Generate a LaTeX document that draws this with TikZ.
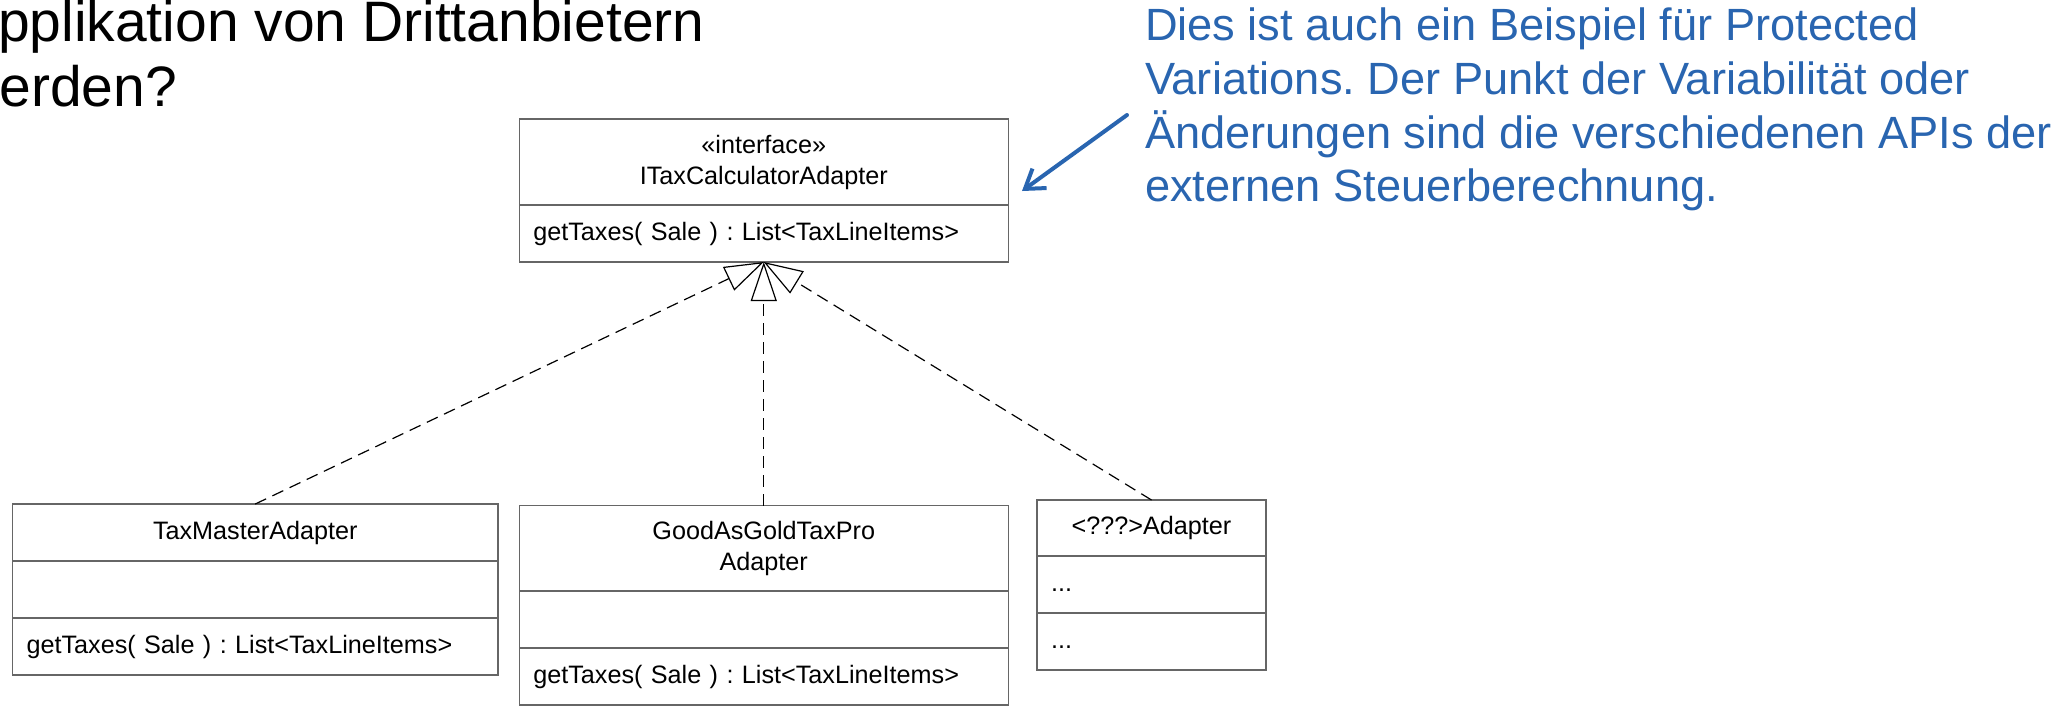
\documentclass[tikz,border=0pt]{standalone}
\usepackage{fontspec}
\setmainfont{Liberation Sans}
\frenchspacing
\usetikzlibrary{positioning,arrows.meta}
\definecolor{noteblue}{RGB}{41,101,176}
\newcommand{\gettaxes}{getTaxes( Sale ) : List<TaxLineItems>}

\begin{document}
\begin{tikzpicture}[
      x=0.5pt, y=-0.5pt,
      every node/.style={inner sep=0pt, outer sep=0pt},
      part/.style={draw=black!60, line width=0.7pt, inner xsep=7pt,
        font=\fontsize{12.6}{15.5}\selectfont, minimum height=28.5pt},
      row/.style={part, text height=9.1pt, text depth=2.6pt},
      wide/.style={text width=230.5pt},
      mid/.style={text width=228.75pt},
      narrow/.style={text width=100.5pt},
      realize/.style={line width=0.6pt, dash pattern=on 6pt off 3.5pt,
        -{Triangle[open,length=19.5pt,width=13pt]}}
    ]
      \useasboundingbox (0,0) rectangle (2070,708);
      \node[anchor=base west, font=\fontsize{28.5}{33.75}\selectfont] (titleTop) at (-2,41.5) {pplikation von Drittanbietern};
      \node[anchor=base west, font=\fontsize{28.5}{33.75}\selectfont] (titleBottom) at (-0.5,106.5) {erden?};

      \node[part, wide, align=center, minimum height=43pt] (ifaceHead) at (763.75,162) {«interface»\\ITaxCalculatorAdapter};
      \node[row, wide, align=left, below=0pt of ifaceHead] (ifaceOps) {\gettaxes};

      \node[row, mid, align=center] (taxHead) at (255.25,532.5) {TaxMasterAdapter};
      \node[row, mid, below=0pt of taxHead] (taxAttrs) {};
      \node[row, mid, align=left, below=0pt of taxAttrs] (taxOps) {\gettaxes};

      \node[part, wide, align=center, minimum height=42.75pt] (goldHead) at (763.75,548.25) {GoodAsGoldTaxPro\\Adapter};
      \node[row, wide, below=0pt of goldHead] (goldAttrs) {};
      \node[row, wide, align=left, below=0pt of goldAttrs] (goldOps) {\gettaxes};

      \node[row, narrow, align=center, minimum height=28pt] (anyHead) at (1151.5,528) {<???>Adapter};
      \node[row, narrow, align=left, below=0pt of anyHead] (anyAttrs) {...};
      \node[row, narrow, align=left, below=0pt of anyAttrs] (anyOps) {...};

      \draw[realize] (taxHead.north) -- (ifaceOps.south);
      \draw[realize] (goldHead.north) -- (ifaceOps.south);
      \draw[realize] (anyHead.north) -- (ifaceOps.south);

      \node[anchor=base west, align=left, text=noteblue, font=\fontsize{22.6}{26.85}\selectfont] (note) at (1145,201.8)
        {Dies ist auch ein Beispiel für Protected\\Variations. Der Punkt der Variabilität oder\\Änderungen sind die verschiedenen APIs der\\externen Steuerberechnung.};
      \coordinate (noteTail) at (1127,115);
      \coordinate (noteTip) at (1022,191);
      \draw[noteblue, line width=2pt, line cap=round, -{Straight Barb[length=9pt,width=12pt]}] (noteTail) -- (noteTip);
    \end{tikzpicture}
\end{document}
